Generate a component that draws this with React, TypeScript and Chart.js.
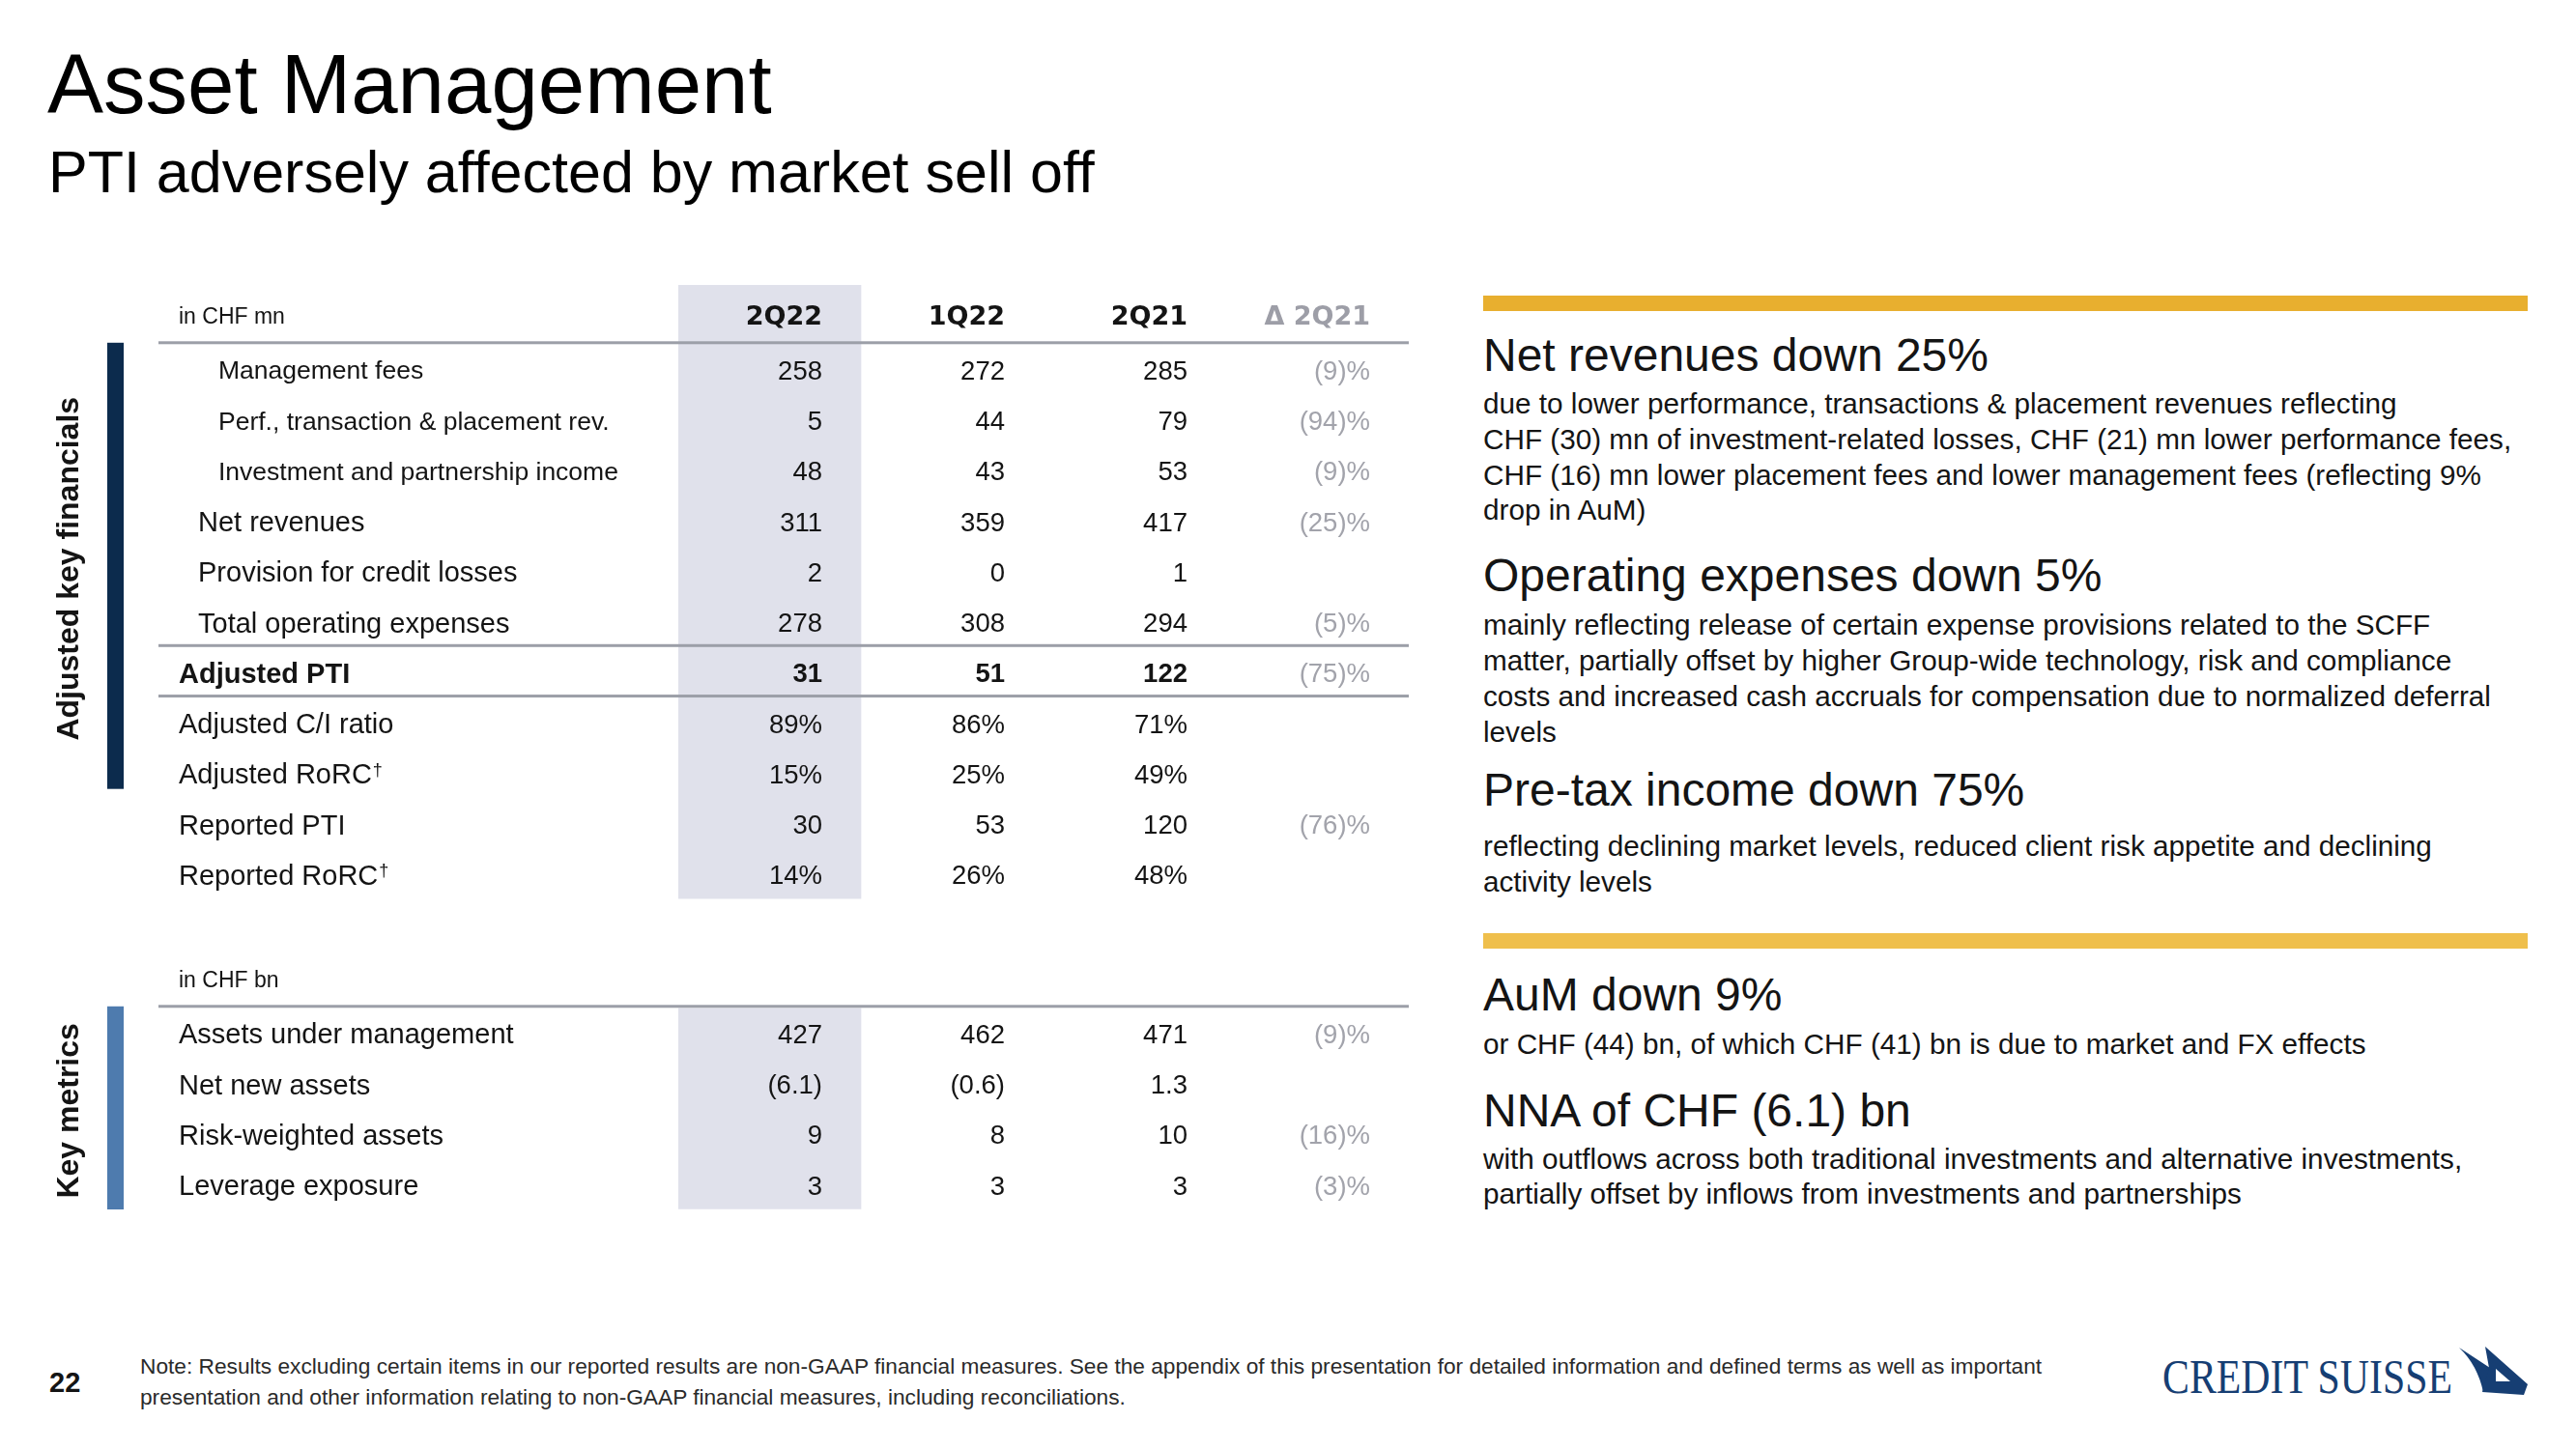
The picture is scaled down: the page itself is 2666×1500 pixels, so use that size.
import React, { useEffect, useRef } from "react";
import { Chart, registerables } from "chart.js";

Chart.register(...registerables);

// ---------------- data ----------------
const COLUMNS = ["2Q22", "1Q22", "2Q21", "Δ 2Q21"];

const FIN_UNIT = "in CHF mn";
const FIN_ROWS = [
  "Management fees",
  "Perf., transaction & placement rev.",
  "Investment and partnership income",
  "Net revenues",
  "Provision for credit losses",
  "Total operating expenses",
  "Adjusted PTI",
  "Adjusted C/I ratio",
  "Adjusted RoRC†",
  "Reported PTI",
  "Reported RoRC†",
];
const FIN_LEVEL = [2, 2, 2, 1, 1, 1, 0, 0, 0, 0, 0];
const FIN_BOLD = ["Adjusted PTI"];
const FIN_2Q22 = ["258", "5", "48", "311", "2", "278", "31", "89%", "15%", "30", "14%"];
const FIN_1Q22 = ["272", "44", "43", "359", "0", "308", "51", "86%", "25%", "53", "26%"];
const FIN_2Q21 = ["285", "79", "53", "417", "1", "294", "122", "71%", "49%", "120", "48%"];
const FIN_DELTA = ["(9)%", "(94)%", "(9)%", "(25)%", "", "(5)%", "(75)%", "", "", "(76)%", ""];
const FIN_RULES = ["Management fees", "Adjusted PTI", "Adjusted C/I ratio"];
const FIN_SIDE = "Adjusted key financials";

const KM_UNIT = "in CHF bn";
const KM_ROWS = ["Assets under management", "Net new assets", "Risk-weighted assets", "Leverage exposure"];
const KM_LEVEL = [0, 0, 0, 0];
const KM_2Q22 = ["427", "(6.1)", "9", "3"];
const KM_1Q22 = ["462", "(0.6)", "8", "3"];
const KM_2Q21 = ["471", "1.3", "10", "3"];
const KM_DELTA = ["(9)%", "", "(16)%", "(3)%"];
const KM_RULES = ["Assets under management"];
const KM_SIDE = "Key metrics";

const TITLE = "Asset Management";
const SUBTITLE = "PTI adversely affected by market sell off";

const H1_TITLE = "Net revenues down 25%";
const H1_LINES = [
  "due to lower performance, transactions & placement revenues reflecting",
  "CHF (30) mn of investment-related losses, CHF (21) mn lower performance fees,",
  "CHF (16) mn lower placement fees and lower management fees (reflecting 9%",
  "drop in AuM)",
];
const H2_TITLE = "Operating expenses down 5%";
const H2_LINES = [
  "mainly reflecting release of certain expense provisions related to the SCFF",
  "matter, partially offset by higher Group-wide technology, risk and compliance",
  "costs and increased cash accruals for compensation due to normalized deferral",
  "levels",
];
const H3_TITLE = "Pre-tax income down 75%";
const H3_LINES = [
  "reflecting declining market levels, reduced client risk appetite and declining",
  "activity levels",
];
const H4_TITLE = "AuM down 9%";
const H4_LINES = ["or CHF (44) bn, of which CHF (41) bn is due to market and FX effects"];
const H5_TITLE = "NNA of CHF (6.1) bn";
const H5_LINES = [
  "with outflows across both traditional investments and alternative investments,",
  "partially offset by inflows from investments and partnerships",
];

const PAGE_NO = "22";
const NOTE_LINES = [
  "Note: Results excluding certain items in our reported results are non-GAAP financial measures. See the appendix of this presentation for detailed information and defined terms as well as important",
  "presentation and other information relating to non-GAAP financial measures, including reconciliations.",
];
const LOGO_TEXT = "CREDIT SUISSE";

// ---------------- styling ----------------
const SANS = '"Liberation Sans", Arial, Helvetica, sans-serif';
const HEADF = '"DejaVu Sans", "Liberation Sans", sans-serif';
const INK = "#141414";
const GREY = "#a2a3ab";
const RULE = "#9c9fa8";
const SHADE = "#e0e1eb";

type Spec = {
  unit: string;
  rows: string[];
  levels: number[];
  bold: string[];
  values: string[][];
  rules: string[];
  side: string;
  sideColor: string;
  sideEnd: number;
  showHeader: boolean;
  shadeTop: number;
  yMin: number;
  yMax: number;
};

const HEADER_ROW = -1.08;

function drawText(ctx: any, s: string, x: number, cy: number, size: number, weight: string, family: string, color: string, align: string, capRatio = 0.358) {
  ctx.font = `${weight} ${size}px ${family}`;
  ctx.fillStyle = color;
  ctx.textAlign = align;
  ctx.textBaseline = "alphabetic";
  const base = cy + capRatio * size;
  if (s.endsWith("†")) {
    const main = s.slice(0, -1);
    ctx.fillText(main, x, base);
    const w = ctx.measureText(main).width;
    ctx.font = `${weight} ${Math.round(size * 0.62)}px ${family}`;
    ctx.textAlign = "left";
    ctx.fillText("†", x + w + 1, base - size * 0.3);
  } else {
    ctx.fillText(s, x, base);
  }
}

function tablePlugin(spec: Spec) {
  return {
    id: "tableText",
    afterDatasetsDraw(chart: any) {
      const ctx = chart.ctx;
      const ca = chart.chartArea;
      const xs = chart.scales.x;
      const ys = chart.scales.y;
      const colW = xs.getPixelForValue(1) - xs.getPixelForValue(0);
      const rightOf = (c: number) => xs.getPixelForValue(c) + colW / 2 - 40;
      const py = (v: number) => ys.getPixelForValue(v);
      const labelX = 145;
      const indent = [0, 20, 41];
      ctx.save();

      // side bar + rotated label
      const barTop = py(-0.54);
      const barBot = py(spec.sideEnd);
      ctx.fillStyle = spec.sideColor;
      ctx.fillRect(71, barTop, 17, barBot - barTop);
      ctx.save();
      ctx.translate(41, (barTop + barBot) / 2 + 3);
      ctx.rotate(-Math.PI / 2);
      ctx.font = `bold 32px ${SANS}`;
      ctx.fillStyle = INK;
      ctx.textAlign = "center";
      ctx.textBaseline = "alphabetic";
      ctx.fillText(spec.side, 0, 0);
      ctx.restore();

      // rules
      ctx.fillStyle = RULE;
      spec.rules.forEach((name) => {
        const r = spec.rows.indexOf(name);
        const y = py(r - 0.54);
        ctx.fillRect(labelX - 21, y - 1.5, ca.right - (labelX - 21), 3);
      });

      // header
      drawText(ctx, spec.unit, labelX, py(HEADER_ROW), 23, "normal", SANS, INK, "left");
      if (spec.showHeader) {
        COLUMNS.forEach((c, i) => {
          drawText(ctx, c, rightOf(i), py(HEADER_ROW), 27, "bold", HEADF, i === 3 ? "#9d9ea7" : INK, "right", 0.364);
        });
      }

      // rows
      spec.rows.forEach((label, r) => {
        const cy = py(r);
        const isBold = spec.bold.includes(label);
        const lvl = spec.levels[r];
        const size = lvl === 2 ? 26.5 : 29;
        drawText(ctx, label, labelX + indent[lvl], cy, size, isBold ? "bold" : "normal", SANS, INK, "left");
        spec.values.forEach((col, c) => {
          const v = col[r];
          if (!v) return;
          drawText(ctx, v, rightOf(c), cy, 27.5, isBold && c < 3 ? "bold" : "normal", SANS, c === 3 ? GREY : INK, "right");
        });
      });
      ctx.restore();
    },
  };
}

function TableChart({ spec, left, top, width, height }: { spec: Spec; left: number; top: number; width: number; height: number }) {
  const ref = useRef<HTMLCanvasElement | null>(null);
  useEffect(() => {
    if (!ref.current) return;
    const shade = COLUMNS.map((_, i) => (i === 0 ? [spec.shadeTop, spec.rows.length - 0.53] : null));
    const chart = new Chart(ref.current, {
      type: "bar",
      data: {
        labels: COLUMNS,
        datasets: [
          {
            data: shade as any,
            backgroundColor: SHADE,
            borderWidth: 0,
            barPercentage: 1,
            categoryPercentage: 1,
          },
        ],
      },
      options: {
        responsive: false,
        animation: false,
        devicePixelRatio: 1,
        events: [],
        layout: { padding: { left: 662, right: width - 662 - 756, top: 0, bottom: 0 } },
        plugins: { legend: { display: false }, tooltip: { enabled: false }, title: { display: false } },
        scales: {
          x: { type: "category", display: false },
          y: { type: "linear", display: false, min: spec.yMin, max: spec.yMax, reverse: true },
        },
      },
      plugins: [tablePlugin(spec)],
    } as any);
    return () => chart.destroy();
  }, [spec]);
  return (
    <canvas
      ref={ref}
      width={width}
      height={height}
      style={{ position: "absolute", left, top, width, height }}
    />
  );
}

const FIN_SPEC: Spec = {
  unit: FIN_UNIT,
  rows: FIN_ROWS,
  levels: FIN_LEVEL,
  bold: FIN_BOLD,
  values: [FIN_2Q22, FIN_1Q22, FIN_2Q21, FIN_DELTA],
  rules: FIN_RULES,
  side: FIN_SIDE,
  sideColor: "#0c2b4d",
  sideEnd: 8.3,
  showHeader: true,
  shadeTop: -1.68,
  yMin: -1.78,
  yMax: 10.66,
};

const KM_SPEC: Spec = {
  unit: KM_UNIT,
  rows: KM_ROWS,
  levels: KM_LEVEL,
  bold: [],
  values: [KM_2Q22, KM_1Q22, KM_2Q21, KM_DELTA],
  rules: KM_RULES,
  side: KM_SIDE,
  sideColor: "#4e7bae",
  sideEnd: 3.48,
  showHeader: false,
  shadeTop: -0.5,
  yMin: -1.53,
  yMax: 3.824,
};

function Txt({ x, baseline, size, lh, weight, color, children, family }: any) {
  const L = lh || size;
  const top = baseline - ((L - 1.117 * size) / 2 + 0.905 * size);
  return (
    <div
      style={{
        position: "absolute",
        left: x,
        top,
        fontSize: size,
        lineHeight: `${L}px`,
        fontFamily: family || SANS,
        fontWeight: weight || "normal",
        color: color || INK,
        whiteSpace: "nowrap",
      }}
    >
      {children}
    </div>
  );
}

function Block({ title, lines, titleBase, bodyBase, lh }: any) {
  return (
    <>
      <Txt x={1535} baseline={titleBase} size={48}>
        {title}
      </Txt>
      <Txt x={1535} baseline={bodyBase} size={29.7} lh={lh}>
        {lines.map((l: string, i: number) => (
          <div key={i}>{l}</div>
        ))}
      </Txt>
    </>
  );
}

export default function App() {
  useEffect(() => {
    document.body.style.margin = "0";
    document.body.style.overflow = "hidden";
  }, []);
  return (
    <div style={{ position: "absolute", left: 0, top: 0, width: 2666, height: 1500, background: "#fff", overflow: "hidden" }}>
      <Txt x={49} baseline={117} size={87} color="#000">
        {TITLE}
      </Txt>
      <Txt x={50} baseline={200} size={61} color="#000">
        {SUBTITLE}
      </Txt>

      <TableChart spec={FIN_SPEC} left={40} top={290} width={1430} height={650} />
      <TableChart spec={KM_SPEC} left={40} top={990} width={1430} height={280} />

      <div style={{ position: "absolute", left: 1535, top: 306, width: 1081, height: 16, background: "#e8af2f" }} />
      <div style={{ position: "absolute", left: 1535, top: 966, width: 1081, height: 16, background: "#efbf4c" }} />

      <Block title={H1_TITLE} lines={H1_LINES} titleBase={385} bodyBase={429} lh={36.6} />
      <Block title={H2_TITLE} lines={H2_LINES} titleBase={613} bodyBase={657} lh={37} />
      <Block title={H3_TITLE} lines={H3_LINES} titleBase={835} bodyBase={887} lh={36.5} />
      <Block title={H4_TITLE} lines={H4_LINES} titleBase={1047} bodyBase={1092} lh={36.5} />
      <Block title={H5_TITLE} lines={H5_LINES} titleBase={1167} bodyBase={1210} lh={36} />

      <Txt x={51} baseline={1442} size={29} weight="bold">
        {PAGE_NO}
      </Txt>
      <Txt x={145} baseline={1422} size={22.7} lh={32} color="#2a2a2a">
        {NOTE_LINES.map((l, i) => (
          <div key={i}>{l}</div>
        ))}
      </Txt>

      <svg style={{ position: "absolute", left: 2230, top: 1385 }} width={400} height={70}>
        <text
          x={8}
          y={57}
          fontSize={50}
          fontFamily='"Liberation Serif", "DejaVu Serif", serif'
          fill="#163e73"
          textLength={300}
          lengthAdjust="spacingAndGlyphs"
        >
          {LOGO_TEXT}
        </text>
        <path d="M315,10 L347,31 L340,56 Q334,28 315,10 Z" fill="#163e73" />
        <path d="M342,9 L386,48 L382,59 L339,56 L346,31 Z" fill="#163e73" />
        <path d="M353,32 L353,45 L368,45 Z" fill="#ffffff" />
      </svg>
    </div>
  );
}
